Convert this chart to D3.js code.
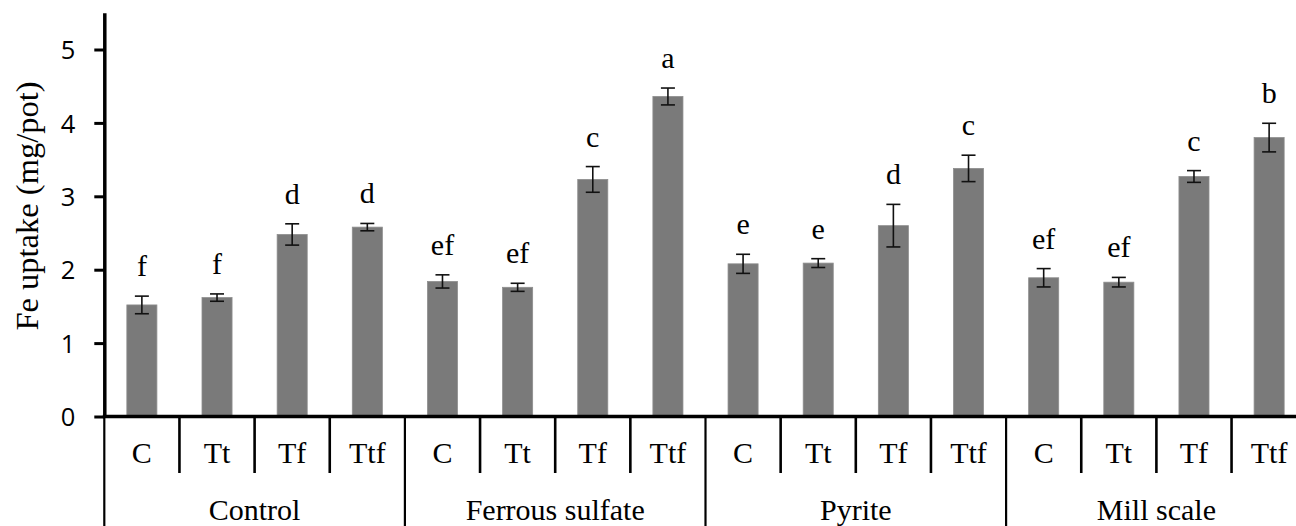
<!DOCTYPE html>
<html>
<head>
<meta charset="utf-8">
<script src="https://cdn.jsdelivr.net/npm/d3@7/dist/d3.min.js"></script>
<style>
  html, body { margin: 0; padding: 0; background: #fff; }
  svg { display: block; }
</style>
</head>
<body>
<svg id="chart" width="1296" height="526"></svg>
<script>
// Fe uptake per pot, by amendment group and treatment
const groups = ["Control", "Ferrous sulfate", "Pyrite", "Mill scale"];
const treatments = ["C", "Tt", "Tf", "Ttf"];

const controlMean  = [1.52, 1.62, 2.48, 2.58];
const ferrousMean  = [1.84, 1.76, 3.23, 4.36];
const pyriteMean   = [2.08, 2.09, 2.60, 3.38];
const millMean     = [1.89, 1.83, 3.27, 3.80];

const controlErr   = [0.12, 0.05, 0.145, 0.05];
const ferrousErr   = [0.09, 0.055, 0.175, 0.115];
const pyriteErr    = [0.13, 0.06, 0.29, 0.18];
const millErr      = [0.125, 0.065, 0.08, 0.195];

const controlLetters = ["f", "f", "d", "d"];
const ferrousLetters = ["ef", "ef", "c", "a"];
const pyriteLetters  = ["e", "e", "d", "c"];
const millLetters    = ["ef", "ef", "c", "b"];

const yTicks = [0, 1, 2, 3, 4, 5];
const yTitle = "Fe uptake (mg/pot)";

// flat table built from the arrays above
const means = [controlMean, ferrousMean, pyriteMean, millMean];
const errs = [controlErr, ferrousErr, pyriteErr, millErr];
const letters = [controlLetters, ferrousLetters, pyriteLetters, millLetters];
const rows = [];
groups.forEach((g, gi) => {
  treatments.forEach((t, ti) => {
    rows.push({ key: g + "|" + t, group: g, treatment: t,
                mean: means[gi][ti], err: errs[gi][ti], letter: letters[gi][ti] });
  });
});

const svg = d3.select("#chart");
const W = 1296, H = 526;
const axisX = 104.3, zeroY = 416.5, unit = 73.4;
const serif = "'Liberation Serif', 'Times New Roman', serif";

const y = d3.scaleLinear().domain([0, 5.5]).range([zeroY, zeroY - 5.5 * unit]);
const x = d3.scaleBand().domain(rows.map(d => d.key))
  .range([axisX, axisX + 16 * 75.15]).paddingInner(0).paddingOuter(0);
const barW = x.bandwidth() * 0.4;
const cx = d => x(d.key) + x.bandwidth() / 2;

// bars
svg.append("g").selectAll("rect").data(rows).join("rect")
  .attr("x", d => cx(d) - barW / 2)
  .attr("y", d => y(d.mean))
  .attr("width", barW)
  .attr("height", d => y(0) - y(d.mean))
  .attr("fill", "#7a7a7a")
  .attr("stroke", "#8e8e8e")
  .attr("stroke-width", 0.8);

// error bars
const eb = svg.append("g").attr("stroke", "#111").attr("stroke-width", 1.6).attr("fill", "none");
rows.forEach(d => {
  const top = y(d.mean + d.err), bot = y(d.mean - d.err), c = cx(d);
  eb.append("line").attr("x1", c).attr("x2", c).attr("y1", top).attr("y2", bot);
  eb.append("line").attr("x1", c - 7).attr("x2", c + 7).attr("y1", top).attr("y2", top);
  eb.append("line").attr("x1", c - 7).attr("x2", c + 7).attr("y1", bot).attr("y2", bot);
});

// significance letters
svg.append("g").selectAll("text").data(rows).join("text")
  .attr("x", cx)
  .attr("y", d => y(d.mean + d.err) - 20)
  .attr("text-anchor", "middle")
  .attr("font-family", serif)
  .attr("font-size", 30)
  .attr("fill", "#000")
  .text(d => d.letter);

// y axis
const yAxis = svg.append("g")
  .attr("transform", `translate(${axisX},0)`)
  .call(d3.axisLeft(y).tickValues(yTicks).tickFormat(d3.format("d"))
    .tickSize(10).tickSizeOuter(0).tickPadding(19));
yAxis.select(".domain").attr("stroke", "#000").attr("stroke-width", 3.5);
yAxis.selectAll(".tick line").attr("stroke", "#000").attr("stroke-width", 3);
yAxis.selectAll(".tick text")
  .attr("font-family", "'Open Sans', sans-serif")
  .attr("font-size", 25.5)
  .attr("fill", "#000")
  .attr("dy", "0.36em");

svg.append("text")
  .attr("transform", `translate(38,206) rotate(-90)`)
  .attr("text-anchor", "middle")
  .attr("font-family", serif)
  .attr("font-size", 32.5)
  .attr("fill", "#000")
  .text(yTitle);

// x axis baseline
svg.append("line")
  .attr("x1", axisX - 1.5).attr("x2", W)
  .attr("y1", y(0)).attr("y2", y(0))
  .attr("stroke", "#000").attr("stroke-width", 3.5);

// category separators: short between treatments, full height between groups
const bounds = d3.range(17).map(i => axisX + i * x.step());
svg.append("g").selectAll("line").data(bounds).join("line")
  .attr("x1", d => d).attr("x2", d => d)
  .attr("y1", y(0))
  .attr("y2", (d, i) => i % 4 === 0 ? H : 473)
  .attr("stroke", "#000")
  .attr("stroke-width", (d, i) => i % 4 === 0 ? 2.2 : 2.6);

// treatment labels
svg.append("g").selectAll("text").data(rows).join("text")
  .attr("x", cx).attr("y", 463)
  .attr("text-anchor", "middle")
  .attr("font-family", serif).attr("font-size", 30).attr("fill", "#000")
  .text(d => d.treatment);

// group labels
svg.append("g").selectAll("text").data(groups).join("text")
  .attr("x", (g, gi) => (bounds[gi * 4] + bounds[gi * 4 + 4]) / 2)
  .attr("y", 520)
  .attr("text-anchor", "middle")
  .attr("font-family", serif).attr("font-size", 30).attr("fill", "#000")
  .text(g => g);
</script>
</body>
</html>
